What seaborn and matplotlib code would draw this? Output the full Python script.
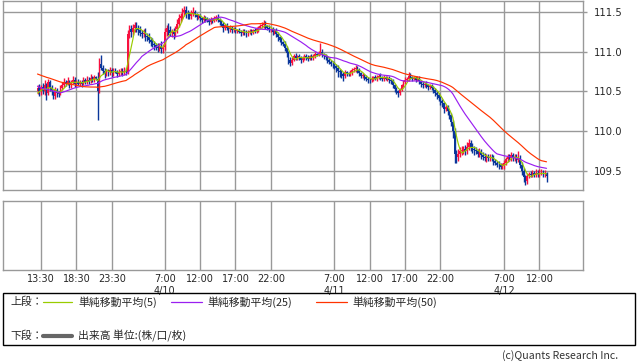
import numpy as np
import pandas as pd
import matplotlib
matplotlib.use("Agg")
import matplotlib.pyplot as plt
import seaborn as sns
from matplotlib.patches import Rectangle
from matplotlib.lines import Line2D

# ---------------- data ----------------
start_hour = 13.0      # first bar: 4/9 13:00 (hours since 4/9 00:00)
bar_hours = 0.25       # 15-minute bars

# closes before the visible window (only used to warm up the moving averages)
history_close = [110.95, 110.94, 110.93, 110.92, 110.92, 110.91, 110.90, 110.90, 110.89, 110.88,
                 110.88, 110.87, 110.87, 110.86, 110.86, 110.85, 110.85, 110.84, 110.84, 110.84,
                 110.83, 110.83, 110.82, 110.82, 110.82,
                 110.78, 110.75, 110.72, 110.70, 110.68, 110.68, 110.67, 110.66, 110.66, 110.65, 110.65, 110.64,
                 110.55, 110.48, 110.44, 110.42, 110.40, 110.40, 110.41, 110.42, 110.43, 110.45, 110.47, 110.50]

close = [
    110.55, 110.50, 110.56, 110.50, 110.58, 110.48, 110.62, 110.55,
    110.50, 110.44, 110.52, 110.48, 110.47, 110.55, 110.58, 110.62,
    110.60, 110.63, 110.58, 110.62, 110.65, 110.60, 110.62, 110.60,
    110.62, 110.60, 110.64, 110.62, 110.65, 110.63, 110.67, 110.65,
    110.68, 110.66, 110.50, 110.85, 110.80, 110.76, 110.72, 110.75,
    110.74, 110.77, 110.73, 110.76, 110.75, 110.72, 110.74, 110.76,
    110.74, 110.76, 110.75, 111.22, 111.28, 111.25, 111.30, 111.33,
    111.30, 111.27, 111.24, 111.22, 111.24, 111.20, 111.18, 111.15,
    111.12, 111.10, 111.08, 111.06, 111.05, 111.07, 111.04, 111.06,
    111.25, 111.30, 111.27, 111.24, 111.25, 111.22, 111.28, 111.35,
    111.42, 111.45, 111.50, 111.52, 111.48, 111.47, 111.45, 111.48,
    111.50, 111.47, 111.44, 111.45, 111.42, 111.40, 111.43, 111.41,
    111.40, 111.38, 111.41, 111.39, 111.42, 111.44, 111.40, 111.38,
    111.35, 111.30, 111.33, 111.30, 111.28, 111.30, 111.27, 111.28,
    111.26, 111.27, 111.25, 111.24, 111.26, 111.24, 111.23, 111.25,
    111.26, 111.24, 111.27, 111.26, 111.28, 111.30, 111.32, 111.33,
    111.36, 111.32, 111.30, 111.28, 111.28, 111.25, 111.27, 111.22,
    111.18, 111.15, 111.12, 111.10, 111.05, 110.98, 110.90, 110.86,
    110.90, 110.95, 110.92, 110.94, 110.93, 110.90, 110.92, 110.95,
    110.93, 110.91, 110.94, 110.92, 110.95, 110.97, 110.96, 110.98,
    111.00, 110.96, 110.94, 110.93, 110.90, 110.87, 110.85, 110.84,
    110.82, 110.80, 110.76, 110.74, 110.72, 110.70, 110.74, 110.73,
    110.72, 110.74, 110.77, 110.78, 110.80, 110.77, 110.73, 110.70,
    110.70, 110.68, 110.66, 110.65, 110.64, 110.66, 110.68, 110.66,
    110.68, 110.70, 110.67, 110.66, 110.68, 110.66, 110.67, 110.65,
    110.63, 110.58, 110.53, 110.50, 110.48, 110.52, 110.58, 110.62,
    110.65, 110.66, 110.70, 110.68, 110.66, 110.67, 110.65, 110.66,
    110.63, 110.60, 110.58, 110.60, 110.58, 110.56, 110.57, 110.55,
    110.52, 110.48, 110.45, 110.42, 110.38, 110.35, 110.28, 110.30,
    110.25, 110.20, 110.12, 110.00, 109.72, 109.68, 109.72, 109.75,
    109.76, 109.78, 109.75, 109.80, 109.85, 109.80, 109.78, 109.76,
    109.75, 109.72, 109.74, 109.70, 109.68, 109.66, 109.68, 109.66,
    109.68, 109.66, 109.62, 109.60, 109.58, 109.57, 109.55, 109.56,
    109.60, 109.65, 109.68, 109.66, 109.70, 109.66, 109.68, 109.64,
    109.66, 109.58, 109.50, 109.42, 109.38, 109.44, 109.46, 109.45,
    109.47, 109.45, 109.48, 109.46, 109.47, 109.48, 109.46, 109.47,
    109.44]

# upper / lower wick lengths in pips (0.01)
hi_pips = [
    3, 4, 2, 5, 6, 3, 4, 3,  3, 2, 4, 3, 2, 3, 4, 5,  3, 5, 2, 3, 4, 3, 2, 4,  3, 2, 4, 3, 4, 3, 5, 3,
    3, 2, 9, 7, 11, 3, 4, 3,  3, 4, 2, 4, 3, 2, 4, 3,  4, 5, 4, 5, 6, 6, 5, 4,  5, 4, 5, 3, 5, 6, 4, 5,
    4, 5, 4, 3, 5, 4, 6, 4,  5, 4, 6, 5, 4, 5, 4, 6,  5, 4, 5, 6, 5, 4, 3, 5,  6, 3, 2, 3, 3, 2, 3, 2,
    3, 2, 3, 2, 3, 2, 3, 2,  2, 3, 2, 3, 2, 3, 2, 3,  3, 2, 3, 2, 3, 2, 3, 2,  2, 3, 2, 3, 3, 2, 3, 4,
    4, 3, 2, 3, 2, 3, 2, 3,  3, 2, 3, 2, 3, 2, 3, 3,  3, 2, 3, 2, 3, 2, 3, 2,  2, 3, 2, 3, 2, 3, 2, 3,
    11, 3, 2, 3, 2, 3, 2, 3,  3, 2, 3, 2, 3, 2, 3, 2,  2, 3, 2, 3, 3, 2, 3, 2,  3, 2, 3, 2, 2, 3, 2, 3,
    3, 2, 3, 2, 3, 2, 3, 2,  2, 3, 2, 3, 2, 3, 2, 3,  3, 2, 5, 3, 2, 3, 2, 3,  3, 2, 3, 2, 3, 2, 3, 2,
    2, 3, 2, 3, 2, 3, 2, 3,  3, 2, 3, 2, 4, 5, 6, 5,  5, 4, 5, 6, 5, 4, 5, 4,  4, 3, 5, 4, 4, 5, 3, 4,
    4, 3, 4, 3, 3, 4, 3, 4,  4, 3, 4, 3, 4, 3, 4, 3,  9, 4, 3, 4, 3, 4, 3, 4,  4, 3, 4, 3, 5, 4, 3, 4,
    2]
lo_pips = [
    3, 6, 4, 3, 4, 9, 3, 4,  5, 4, 3, 5, 4, 2, 3, 2,  3, 2, 4, 3, 2, 4, 3, 2,  3, 4, 2, 3, 2, 3, 2, 3,
    3, 2, 36, 2, 3, 4, 5, 3,  4, 3, 5, 3, 2, 4, 3, 3,  4, 3, 4, 3, 5, 6, 4, 5,  5, 6, 4, 5, 4, 6, 5, 4,
    5, 4, 6, 4, 5, 4, 5, 6,  4, 5, 6, 4, 5, 6, 4, 4,  4, 5, 4, 5, 5, 6, 4, 4,  3, 3, 4, 3, 3, 4, 3, 3,
    3, 4, 3, 3, 2, 3, 3, 4,  3, 5, 3, 3, 4, 3, 3, 2,  3, 3, 2, 4, 3, 3, 4, 3,  3, 3, 2, 3, 2, 3, 2, 2,
    3, 4, 3, 3, 3, 4, 3, 4,  4, 3, 4, 3, 4, 5, 6, 4,  3, 2, 3, 2, 3, 4, 3, 2,  3, 3, 2, 3, 2, 3, 2, 2,
    2, 3, 3, 3, 4, 3, 3, 4,  4, 6, 8, 6, 5, 7, 3, 4,  3, 2, 3, 2, 3, 4, 4, 3,  3, 4, 3, 4, 3, 2, 3, 2,
    3, 2, 3, 3, 3, 2, 3, 4,  3, 4, 4, 3, 5, 3, 2, 2,  3, 2, 3, 2, 3, 2, 3, 2,  3, 4, 3, 2, 3, 4, 3, 3,
    4, 4, 5, 4, 5, 4, 5, 3,  4, 5, 6, 8, 12, 8, 5, 4,  5, 4, 5, 4, 4, 5, 5, 6,  4, 5, 4, 5, 4, 4, 5, 3,
    3, 4, 4, 3, 3, 4, 3, 3,  3, 3, 4, 3, 3, 4, 3, 4,  3, 4, 5, 6, 6, 4, 3, 3,  3, 2, 3, 4, 3, 2, 3, 4,
    8]

ma_periods = [5, 25, 50]
ma_colors = ["#99cc00", "#9a1ff0", "#ff3300"]
ma_labels = ["単純移動平均(5)", "単純移動平均(25)", "単純移動平均(50)"]

tick_hours = [13.5, 18.5, 23.5, 31, 36, 41, 46, 55, 60, 65, 70, 79, 84]
tick_labels = ["13:30", "18:30", "23:30", "7:00\n4/10", "12:00", "17:00", "22:00",
               "7:00\n4/11", "12:00", "17:00", "22:00", "7:00\n4/12", "12:00"]
y_ticks = [109.5, 110.0, 110.5, 111.0, 111.5]

# ---------------- build frame ----------------
n = len(close)
df = pd.DataFrame({"close": close, "hi": hi_pips[:n], "lo": lo_pips[:n]})
df["t"] = start_hour + np.arange(n) * bar_hours
df["open"] = [history_close[-1]] + close[:-1]
df["high"] = df[["open", "close"]].max(axis=1) + df["hi"] / 100.0
df["low"] = df[["open", "close"]].min(axis=1) - df["lo"] / 100.0
full = pd.Series(history_close + close)
for p in ma_periods:
    df[f"ma{p}"] = full.rolling(p).mean().values[-n:]

# ---------------- figure ----------------
sns.set_theme(style="white")
plt.rcParams["font.family"] = ["DejaVu Sans", "Noto Sans CJK JP"]
jp = ["Noto Sans CJK JP", "DejaVu Sans"]

W, H = 638, 362
fig = plt.figure(figsize=(W / 100, H / 100), dpi=100)
fig.patch.set_facecolor("white")


def fx(x):
    return x / W


def fy(y):
    return 1 - y / H


grid_c = "#999999"
ax1 = fig.add_axes([fx(3), fy(190), fx(580), 189 / H])
ax2 = fig.add_axes([fx(3), fy(270), fx(580), 69 / H])

xlim = (8.12, 90.16)
for ax in (ax1, ax2):
    ax.set_facecolor("white")
    ax.set_xlim(*xlim)
    for s in ax.spines.values():
        s.set_color(grid_c)
        s.set_linewidth(1.0)
    ax.set_xticks(tick_hours)
    ax.xaxis.grid(True, color=grid_c, linewidth=1.0)
    ax.tick_params(axis="x", length=0)
    ax.set_xlabel("")
    ax.set_ylabel("")

# candles
up = df["close"] >= df["open"]
col = np.where(up, "#f8103e", "#0a369a")
ax1.vlines(df["t"], df["low"], df["high"], colors=col, linewidth=1.0, zorder=2)
body = (df["close"] - df["open"]).abs().clip(lower=0.006)
ax1.bar(df["t"], body, bottom=df[["open", "close"]].min(axis=1), width=0.22,
        color=col, linewidth=0, zorder=3)

# moving averages
for p, c in zip(ma_periods, ma_colors):
    sns.lineplot(data=df, x="t", y=f"ma{p}", ax=ax1, color=c, linewidth=0.85,
                 legend=False, zorder=4)

ax1.set_xlim(*xlim)
ax1.set_ylim(109.261, 111.638)
ax1.set_yticks(y_ticks)
ax1.set_yticklabels([f"{v:.1f}" for v in y_ticks], fontsize=7)
ax1.yaxis.tick_right()
ax1.yaxis.grid(True, color=grid_c, linewidth=1.0)
ax1.tick_params(axis="y", length=3, color=grid_c, width=1, pad=5, labelsize=7.2,
                left=False, right=True)
ax1.set_xticklabels([])
ax1.set_xlabel("")
ax1.set_ylabel("")

ax2.set_ylim(0, 1)
ax2.set_yticks([])
ax2.set_xticklabels(tick_labels, fontsize=7, linespacing=1.2)
ax2.tick_params(axis="x", pad=3)

# legend box
fig.patches.append(Rectangle((fx(3), fy(345)), fx(632), 52 / H, transform=fig.transFigure,
                             fill=False, edgecolor="black", linewidth=1.0))
fs = 7.8
y1, y2 = 302, 336
fig.text(fx(10), fy(y1), "上段：", family=jp, fontsize=fs, va="center", ha="left")
seg = [(43, 72, 78), (171, 202, 207), (316, 347, 352)]
for (a, b, tx), c, lab in zip(seg, ma_colors, ma_labels):
    fig.add_artist(Line2D([fx(a), fx(b)], [fy(y1), fy(y1)], color=c, linewidth=0.9,
                          transform=fig.transFigure))
    fig.text(fx(tx), fy(y1), lab, family=jp, fontsize=fs, va="center", ha="left")
fig.text(fx(10), fy(y2), "下段：", family=jp, fontsize=fs, va="center", ha="left")
fig.add_artist(Line2D([fx(43), fx(72)], [fy(y2), fy(y2)], color="#666666", linewidth=3,
                      transform=fig.transFigure))
fig.text(fx(78), fy(y2), "出来高 単位:(株/口/枚)", family=jp, fontsize=fs, va="center", ha="left")
fig.text(fx(618), fy(356), "(c)Quants Research Inc.", family=jp, fontsize=7.6,
         va="center", ha="right", color="#333333")

fig.savefig("out.png", dpi=100, facecolor="white")
